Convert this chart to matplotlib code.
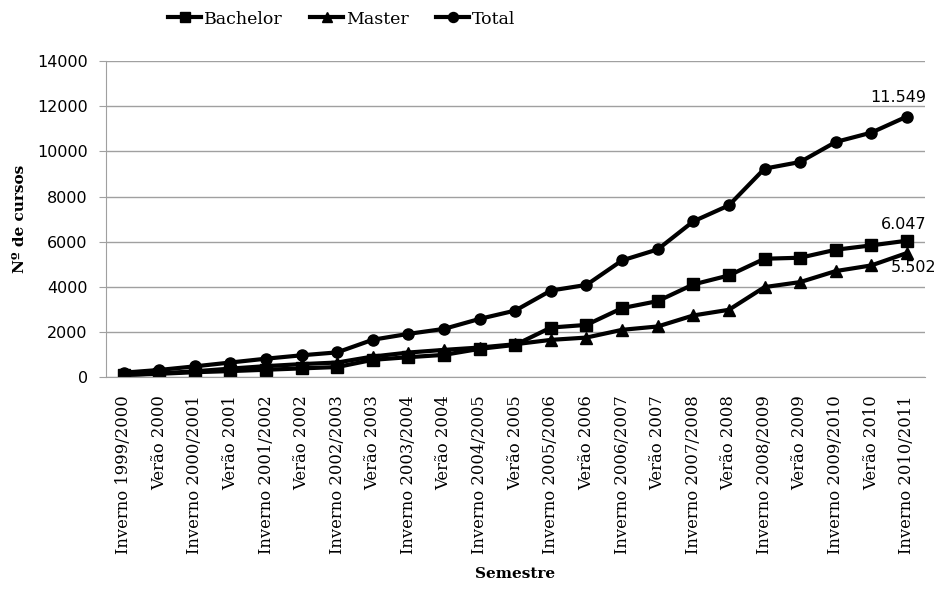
import numpy as np
import matplotlib.pyplot as plt

semestres = [
    "Inverno 1999/2000", "Verão 2000", "Inverno 2000/2001", "Verão 2001",
    "Inverno 2001/2002", "Verão 2002", "Inverno 2002/2003", "Verão 2003",
    "Inverno 2003/2004", "Verão 2004", "Inverno 2004/2005", "Verão 2005",
    "Inverno 2005/2006", "Verão 2006", "Inverno 2006/2007", "Verão 2007",
    "Inverno 2007/2008", "Verão 2008", "Inverno 2008/2009", "Verão 2009",
    "Inverno 2009/2010", "Verão 2010", "Inverno 2010/2011",
]
bachelor = [100, 150, 220, 270, 330, 390, 450, 770, 886, 989, 1255, 1432,
            2199, 2317, 3060, 3370, 4109, 4508, 5248, 5292, 5647, 5839, 6047]
master = [100, 170, 260, 380, 490, 580, 650, 915, 1092, 1210, 1314, 1461,
          1653, 1756, 2099, 2247, 2735, 2986, 3991, 4213, 4701, 4952, 5502]
total = [200, 320, 480, 650, 820, 970, 1100, 1660, 1919, 2140, 2583, 2952,
         3838, 4089, 5174, 5661, 6903, 7613, 9239, 9534, 10421, 10835, 11549]

serif = "DejaVu Serif"
sans = "DejaVu Sans"

fig = plt.figure(figsize=(9.36, 5.94), dpi=100)
ax = fig.add_axes([0.113, 0.365, 0.875, 0.532])

x = np.arange(len(semestres))
l1, = ax.plot(x, bachelor, color="black", lw=3, marker="s", ms=8, label="Bachelor")
l2, = ax.plot(x, master, color="black", lw=3, marker="^", ms=8, label="Master")
l3, = ax.plot(x, total, color="black", lw=3, marker="o", ms=8, label="Total")

ax.set_xlim(-0.5, len(semestres) - 0.5)
ax.set_ylim(0, 14000)
ax.set_yticks(np.arange(0, 14001, 2000))
ax.yaxis.grid(True, color="#a0a0a0", lw=1)
ax.set_axisbelow(True)
for s in ["top", "right"]:
    ax.spines[s].set_visible(False)
for s in ["left", "bottom"]:
    ax.spines[s].set_color("#a0a0a0")

ax.set_xticks(x)
ax.set_xticklabels(semestres, rotation=90, family=serif, fontsize=11.8)
ax.tick_params(axis="x", length=0, pad=13)
ax.tick_params(axis="y", length=5, color="#a0a0a0", labelsize=11.5, pad=8)
for t in ax.get_yticklabels():
    t.set_family(sans)

ax.set_ylabel("Nº de cursos", family=serif, fontweight="bold", fontsize=11, labelpad=7)
ax.set_xlabel("Semestre", family=serif, fontweight="bold", fontsize=11, labelpad=9)

ax.annotate("11.549", (x[-1], total[-1]), xytext=(14, 8), textcoords="offset points",
            ha="right", va="bottom", family=sans, fontsize=11.5)
ax.annotate("6.047", (x[-1], bachelor[-1]), xytext=(14, 6), textcoords="offset points",
            ha="right", va="bottom", family=sans, fontsize=11.5)
ax.annotate("5.502", (x[-1], master[-1]), xytext=(21, -5), textcoords="offset points",
            ha="right", va="top", family=sans, fontsize=11.5)

fig.legend(handles=[l1, l2, l3], loc="center", bbox_to_anchor=(0.365, 0.968), ncol=3,
           frameon=False, prop={"family": serif, "size": 12.5}, handlelength=1.9,
           handletextpad=0.15, columnspacing=1.6, markerscale=0.9)

fig.savefig("out.png", dpi=100)
